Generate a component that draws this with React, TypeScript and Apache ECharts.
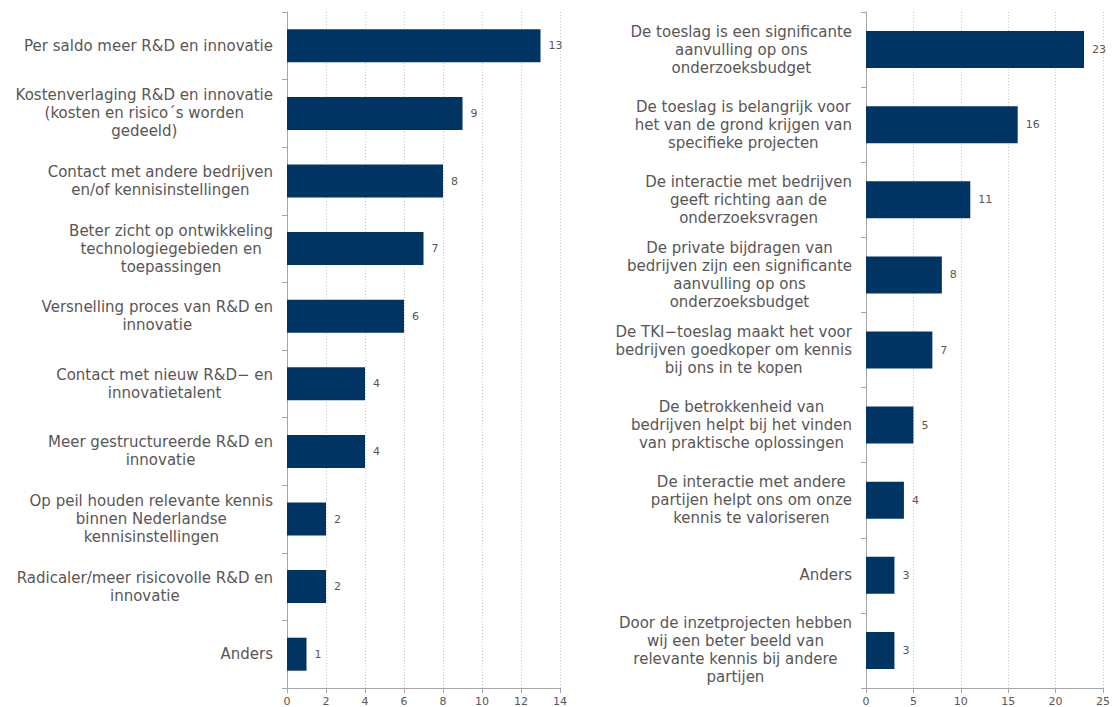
import React, { useEffect, useRef } from "react";
import * as echarts from "echarts";

const leftCategories = [
  "Per saldo meer R&D en innovatie",
  "Kostenverlaging R&D en innovatie\n(kosten en risico´s worden\ngedeeld)",
  "Contact met andere bedrijven\nen/of kennisinstellingen",
  "Beter zicht op ontwikkeling\ntechnologiegebieden en\ntoepassingen",
  "Versnelling proces van R&D en\ninnovatie",
  "Contact met nieuw R&D− en\ninnovatietalent",
  "Meer gestructureerde R&D en\ninnovatie",
  "Op peil houden relevante kennis\nbinnen Nederlandse\nkennisinstellingen",
  "Radicaler/meer risicovolle R&D en\ninnovatie",
  "Anders",
];
const leftValues = [13, 9, 8, 7, 6, 4, 4, 2, 2, 1];

const rightCategories = [
  "De toeslag is een significante\naanvulling op ons\nonderzoeksbudget",
  "De toeslag is belangrijk voor\nhet van de grond krijgen van\nspecifieke projecten",
  "De interactie met bedrijven\ngeeft richting aan de\nonderzoeksvragen",
  "De private bijdragen van\nbedrijven zijn een significante\naanvulling op ons\nonderzoeksbudget",
  "De TKI−toeslag maakt het voor\nbedrijven goedkoper om kennis\nbij ons in te kopen",
  "De betrokkenheid van\nbedrijven helpt bij het vinden\nvan praktische oplossingen",
  "De interactie met andere\npartijen helpt ons om onze\nkennis te valoriseren",
  "Anders",
  "Door de inzetprojecten hebben\nwij een beter beeld van\nrelevante kennis bij andere\npartijen",
];
const rightValues = [23, 16, 11, 8, 7, 5, 4, 3, 3];

const leftAxisMax = 14;
const leftAxisInterval = 2;
const rightAxisMax = 25;
const rightAxisInterval = 5;

const FONT = "'DejaVu Sans', Verdana, sans-serif";
const TEXT = "#595656";
const BAR = "#003462";
const AXIS = "#a6a6a6";

const catLabel = {
  margin: 14,
  fontSize: 15,
  fontFamily: FONT,
  color: TEXT,
  lineHeight: 18,
  align: "right" as const,
  interval: 0,
  formatter: (v: string) =>
    v
      .split("\n")
      .map((l) => `{c|${l}}`)
      .join("\n"),
  rich: {
    c: {
      align: "center",
      fontSize: 15,
      fontFamily: FONT,
      color: TEXT,
      lineHeight: 18,
    },
  },
};

function valueAxis(gridIndex: number, max: number, interval: number) {
  return {
    type: "value",
    gridIndex,
    min: 0,
    max,
    interval,
    axisLine: { show: true, lineStyle: { color: AXIS, width: 1 } },
    axisTick: { show: true, length: 5, lineStyle: { color: AXIS } },
    axisLabel: { fontSize: 11, fontFamily: FONT, color: TEXT, margin: 8 },
    splitLine: {
      show: true,
      lineStyle: { color: "#c8c8c8", type: [1, 2], width: 1 },
    },
  };
}

function catAxis(gridIndex: number, data: string[]) {
  return {
    type: "category",
    gridIndex,
    data,
    inverse: true,
    axisLine: { show: true, lineStyle: { color: AXIS, width: 1 } },
    axisTick: { show: true, length: 5, alignWithLabel: false, lineStyle: { color: AXIS } },
    axisLabel: catLabel,
    splitLine: { show: false },
  };
}

function barSeries(idx: number, values: number[], width: number) {
  return {
    type: "bar",
    xAxisIndex: idx,
    yAxisIndex: idx,
    data: values,
    barWidth: width,
    itemStyle: { color: BAR },
    label: {
      show: true,
      position: "right",
      distance: 8,
      fontSize: 11,
      fontFamily: FONT,
      color: TEXT,
    },
  };
}

export default function App() {
  const ref = useRef<HTMLDivElement>(null);
  useEffect(() => {
    if (!ref.current) return;
    const chart = echarts.init(ref.current, undefined, { renderer: "svg" });
    chart.setOption({
      animation: false,
      backgroundColor: "#ffffff",
      textStyle: { fontFamily: FONT },
      grid: [
        { left: 287, top: 12, width: 273, height: 679 },
        { left: 866, top: 12, width: 240, height: 679 },
      ],
      xAxis: [
        valueAxis(0, leftAxisMax, leftAxisInterval),
        valueAxis(1, rightAxisMax, rightAxisInterval),
      ],
      yAxis: [catAxis(0, leftCategories), catAxis(1, rightCategories)],
      series: [barSeries(0, leftValues, 33), barSeries(1, rightValues, 37)],
    });
    return () => chart.dispose();
  }, []);
  return (
    <div
      ref={ref}
      style={{ position: "fixed", left: 0, top: 0, width: 1113, height: 707 }}
    />
  );
}
